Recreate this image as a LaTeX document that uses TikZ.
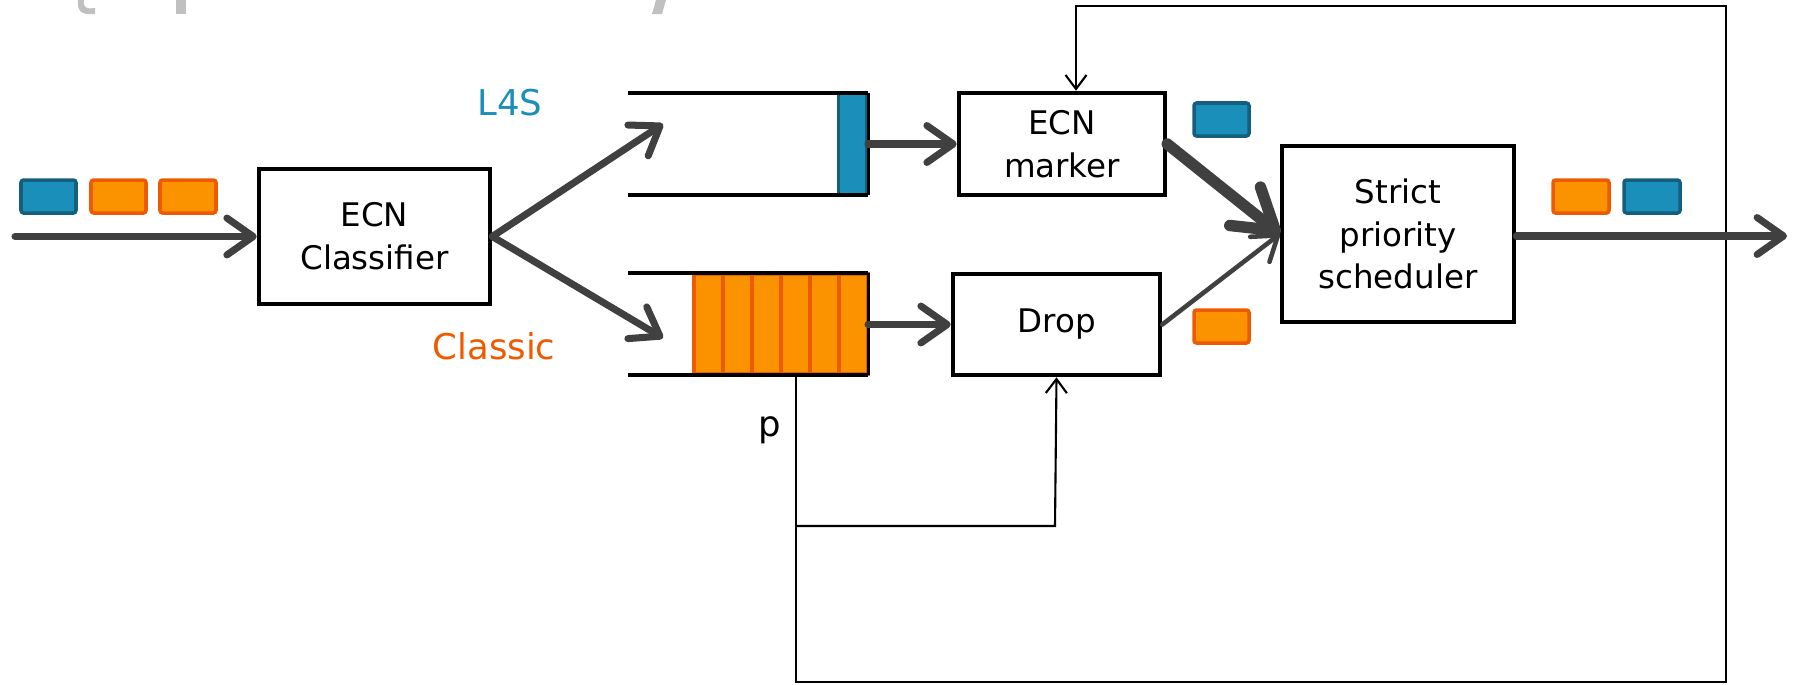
\documentclass[tikz,border=0pt]{standalone}
\usepackage{fontspec}
\setmainfont{DejaVu Sans}
\usetikzlibrary{arrows.meta}
\definecolor{pblue}{HTML}{1A8FBA}
\definecolor{pblueD}{HTML}{145F7D}
\definecolor{porange}{HTML}{FB9200}
\definecolor{porangeD}{HTML}{EE5A00}
\definecolor{agray}{HTML}{404040}
\definecolor{tgray}{HTML}{C0C0C0}
\begin{document}
\begin{tikzpicture}[x=0.02cm,y=-0.02cm,
  box/.style={draw=black,line width=2.6pt,fill=white,align=center,inner sep=0pt,
    font=\fontsize{18.5}{24.4}\selectfont},
  flow/.style={draw=agray,line width=4pt,line cap=round,
    -{Straight Barb[length=15pt,width=21pt,round]}},
  flowthick/.style={draw=agray,line width=6.5pt,line cap=round,
    -{Straight Barb[length=22pt,width=28pt,round]}},
  flowthin/.style={draw=agray,line width=2.6pt,line cap=round,
    -{Straight Barb[length=13pt,width=18pt,round]}},
  fb/.style={draw=black,line width=1.2pt},
  fbarrow/.style={fb,-{Straight Barb[length=8pt,width=12pt]}},
  pktB/.style={fill=pblue,draw=pblueD,line width=2pt,rounded corners=1.5pt},
  pktO/.style={fill=porange,draw=porangeD,line width=2pt,rounded corners=1.5pt},
  qline/.style={draw=black,line width=2.5pt},
  lbl/.style={font=\fontsize{20.2}{24}\selectfont,inner sep=0pt}
]
\useasboundingbox (0,0) rectangle (1798,684);

% cut-off title fragments
\fill[tgray] (78,0) -- (84,0) .. controls (83,8) and (86,9) .. (95,8) -- (95,14) .. controls (82,15) and (77,12) .. (78,0) -- cycle;
\fill[tgray] (176,0) rectangle (186,14);
\fill[tgray] (656,0) -- (666,0) -- (662,14) -- (652,14) -- cycle;

% nodes
\node[box,minimum width=4.62cm,minimum height=2.70cm] (cls) at (374.5,236.5) {ECN\\Classifier};
\node[box,minimum width=4.12cm,minimum height=2.04cm] (mark) at (1062,144) {ECN\\marker};
\node[box,minimum width=4.14cm,minimum height=2.02cm] (drop) at (1056.5,324.5) {Drop};
\node[box,minimum width=4.64cm,minimum height=3.52cm] (sched) at (1398,234) {Strict\\priority\\scheduler};

\node[lbl,text=pblue] (l4s) at (510,103) {L4S};
\node[lbl,text=porangeD] (clab) at (494,346) {Classic};
\node[lbl,text=black] (plab) at (770,430) {p};

% coordinates
\coordinate (in) at (15,236.5);
\coordinate (l4sin) at (663,124);
\coordinate (clin) at (663,338);
\coordinate (qL) at (868,144);
\coordinate (qC) at (868,324.5);
\coordinate (out) at (1787,236);
\coordinate (pq) at (796,374);
\coordinate (fbBL) at (796,682);
\coordinate (fbBR) at (1726,682);
\coordinate (fbTR) at (1726,6);
\coordinate (fbTL) at (1076,6);
\coordinate (fbM) at (796,526);
\coordinate (fbD) at (1055,526);

% L4S queue
\filldraw[fill=pblue,draw=pblueD,line width=1.7pt] (838,94) rectangle (866,194);
\draw[qline] (628,93) -- (868,93);
\draw[qline] (628,195) -- (868,195);
\draw[draw=black,line width=1.7pt] (868,93) -- (868,195);

% Classic queue
\foreach \xa in {694,723,752,781,810,839}{
  \filldraw[fill=porange,draw=porangeD,line width=2pt] (\xa,274) rectangle ({\xa+29},374);
}
\draw[qline] (628,273) -- (868,273);
\draw[qline] (628,375) -- (868,375);
\draw[draw=black,line width=1.7pt] (868,273) -- (868,375);

% feedback lines
\draw[fbarrow] (pq) -- (fbBL) -- (fbBR) -- (fbTR) -- (fbTL) -- (fbTL |- mark.north);
\draw[fbarrow] (fbM) -- (fbD) -- (drop.south);

% flows
\draw[flow] (in) -- (cls.west);
\draw[flow] (cls.east) -- (l4sin);
\draw[flow] (cls.east) -- (clin);
\draw[flow] (qL) -- (mark.west);
\draw[flow] (qC) -- (drop.west);
\draw[flowthick] (mark.east) -- (sched.west);
\draw[flowthin] (drop.east) -- (sched.west);
\draw[flow] (sched.east |- out) -- (out);

% packets
\draw[pktB] (21,180) rectangle (76,213);
\draw[pktO] (91,180) rectangle (146,213);
\draw[pktO] (160,180) rectangle (216,213);
\draw[pktB] (1194,103) rectangle (1249,136);
\draw[pktO] (1194,310) rectangle (1249,343);
\draw[pktO] (1553,180) rectangle (1609,213);
\draw[pktB] (1624,180) rectangle (1680,213);
\end{tikzpicture}
\end{document}
